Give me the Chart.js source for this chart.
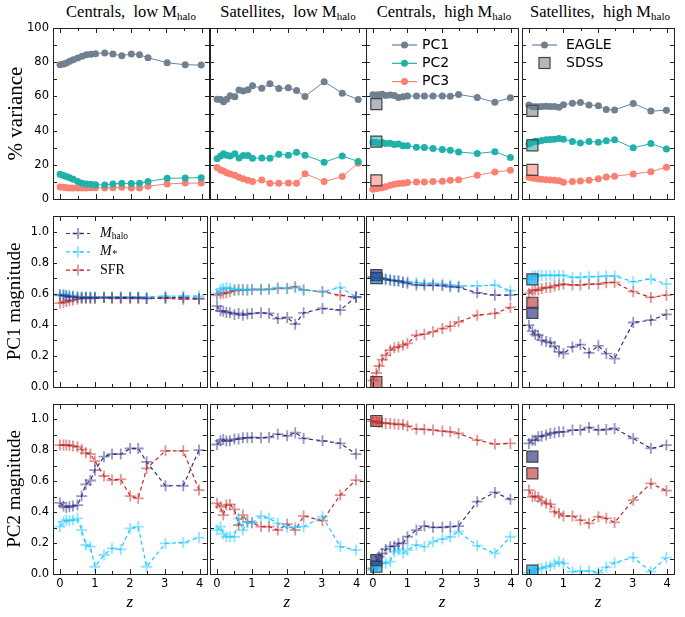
<!DOCTYPE html>
<html>
<head>
<meta charset="utf-8">
<script src="https://cdn.jsdelivr.net/npm/chart.js@4.4.1/dist/chart.umd.min.js"></script>
<style>
  body { margin: 0; background: #fff; }
  #wrap { position: relative; width: 685px; height: 617px; overflow: hidden; }
  #wrap canvas { position: absolute; }
  .ttl { position: absolute; top: 2px; width: 156px; text-align: center;
         font-family: "Liberation Serif", serif; font-size: 16.5px; color: #000; white-space: nowrap; }
  .ttl sub { font-size: 11px; vertical-align: -3px; }
</style>
</head>
<body>
<div id="wrap"></div>
<script>
// snapshot redshifts
var z = [0, 0.1, 0.18, 0.27, 0.37, 0.5, 0.62, 0.74, 0.87, 1.0, 1.26, 1.49, 1.74, 2.01, 2.24, 2.48, 3.02, 3.53, 3.98];

var panelTitles = ['Centrals,\u00a0 low M<sub>halo</sub>', 'Satellites,\u00a0 low M<sub>halo</sub>',
                   'Centrals,\u00a0 high M<sub>halo</sub>', 'Satellites,\u00a0 high M<sub>halo</sub>'];

// row 1: % variance, one list per column (cen low, sat low, cen high, sat high)
var varPC1 = [
  [78.5, 79, 79.6, 80.5, 81.5, 82.5, 83.5, 84.3, 84.7, 85, 85.4, 84.8, 83.8, 84.8, 84.4, 82.6, 79.7, 78.5, 78.3],
  [58.4, 58.2, 56.8, 58.4, 60.4, 59.8, 63.7, 63.1, 63.9, 66.2, 64.8, 67.4, 64.6, 65.0, 63.5, 60.0, 68.6, 61.9, 58.2],
  [61, 60.8, 61, 61.2, 60.5, 60.8, 60.5, 59.3, 59.8, 60.2, 60.2, 60.2, 60.2, 60.3, 60.1, 61.1, 59.4, 56.6, 59.2],
  [54.9, 53.9, 53.9, 54, 54.1, 54.2, 54.1, 54.1, 53.7, 55.1, 56, 56.4, 55, 54.5, 52.3, 52.1, 55.9, 51.4, 51.9]
];
var varPC2 = [
  [14.5, 13.8, 13.2, 12.5, 11.5, 10.2, 9.2, 8.8, 8.6, 8.3, 8.2, 8.8, 9.2, 9.0, 9.2, 10.2, 12.1, 12.3, 12.5],
  [23.6, 25.2, 26.4, 25.6, 25.2, 26.4, 24, 25.4, 25.4, 23.8, 24, 23.8, 26.2, 25.6, 27.3, 25.6, 21.5, 25.2, 21.9],
  [33.2, 33, 32.6, 33, 32.4, 32.6, 31.8, 32.2, 31.2, 31.2, 30.3, 30.1, 29.5, 28.9, 28.5, 27.5, 26.6, 27.7, 24.2],
  [32.2, 33.2, 33.8, 33.8, 34.2, 34.6, 34.8, 35, 35.4, 35, 33.6, 32.8, 33.6, 33.2, 34, 34.6, 29.9, 32.4, 29.3]
];
var varPC3 = [
  [7.0, 6.8, 6.6, 6.5, 6.5, 6.5, 6.5, 6.5, 6.6, 6.6, 6.5, 6.6, 6.8, 6.4, 6.5, 7.5, 8.8, 9.3, 9.3],
  [18.4, 17.0, 16.4, 15.4, 14.6, 13.9, 12.7, 11.9, 10.9, 10.2, 11.1, 9.2, 9.2, 9.4, 9.2, 14.8, 10.2, 13.1, 20.9],
  [5.7, 6.1, 6.4, 6.6, 7.2, 8.0, 8.6, 9.0, 9.2, 9.6, 10.0, 10.0, 10.2, 10.4, 10.9, 11.3, 13.9, 15.8, 16.8],
  [12.7, 12.3, 12.1, 11.7, 11.5, 11.3, 11.1, 10.9, 10.7, 9.8, 10.2, 10.5, 10.9, 11.9, 12.9, 13.3, 14.6, 16.0, 18.6]
];
var sdssVar = [null, null, [55.5, 33.6, 10.9], [51.6, 31.4, 17.0]];   // PC1, PC2, PC3

// row 2: PC1 magnitude
var pc1Mhalo = [
  [0.59, 0.59, 0.585, 0.58, 0.58, 0.575, 0.575, 0.575, 0.575, 0.575, 0.575, 0.575, 0.575, 0.575, 0.575, 0.57, 0.575, 0.575, 0.57],
  [0.52, 0.49, 0.488, 0.48, 0.478, 0.467, 0.473, 0.462, 0.47, 0.473, 0.477, 0.473, 0.44, 0.447, 0.404, 0.477, 0.505, 0.495, 0.58],
  [0.705, 0.703, 0.70, 0.697, 0.693, 0.688, 0.684, 0.682, 0.673, 0.667, 0.656, 0.654, 0.654, 0.652, 0.645, 0.641, 0.606, 0.591, 0.591],
  [0.398, 0.359, 0.338, 0.333, 0.301, 0.292, 0.286, 0.262, 0.226, 0.215, 0.258, 0.273, 0.219, 0.265, 0.215, 0.183, 0.415, 0.43, 0.467]
];
var pc1Mstar = [
  [0.595, 0.595, 0.59, 0.59, 0.585, 0.585, 0.58, 0.58, 0.58, 0.58, 0.58, 0.58, 0.58, 0.58, 0.58, 0.58, 0.585, 0.585, 0.585],
  [0.60, 0.628, 0.634, 0.64, 0.634, 0.628, 0.628, 0.628, 0.624, 0.624, 0.624, 0.628, 0.639, 0.634, 0.64, 0.624, 0.613, 0.64, 0.58],
  [0.71, 0.706, 0.701, 0.697, 0.692, 0.688, 0.684, 0.682, 0.677, 0.677, 0.671, 0.667, 0.667, 0.662, 0.656, 0.65, 0.65, 0.656, 0.619],
  [0.692, 0.714, 0.714, 0.718, 0.718, 0.718, 0.718, 0.718, 0.718, 0.718, 0.705, 0.705, 0.71, 0.71, 0.714, 0.714, 0.677, 0.695, 0.662]
];
var pc1SFR = [
  [0.54, 0.545, 0.55, 0.555, 0.56, 0.565, 0.57, 0.57, 0.57, 0.57, 0.575, 0.57, 0.57, 0.57, 0.57, 0.57, 0.57, 0.565, 0.565],
  [0.59, 0.60, 0.604, 0.606, 0.613, 0.62, 0.624, 0.624, 0.624, 0.628, 0.628, 0.628, 0.634, 0.634, 0.645, 0.624, 0.613, 0.59, 0.576],
  [0.043, 0.09, 0.135, 0.176, 0.204, 0.237, 0.252, 0.258, 0.269, 0.28, 0.333, 0.34, 0.355, 0.376, 0.391, 0.419, 0.462, 0.473, 0.512],
  [0.602, 0.619, 0.624, 0.624, 0.634, 0.64, 0.64, 0.65, 0.656, 0.662, 0.656, 0.656, 0.662, 0.662, 0.671, 0.673, 0.613, 0.576, 0.591]
];
var sdssPC1 = [null, null, [0.72, 0.70, 0.032], [0.477, 0.692, 0.542]];   // Mhalo, M*, SFR

// row 3: PC2 magnitude
var pc2Mhalo = [
  [0.46, 0.44, 0.431, 0.435, 0.44, 0.446, 0.504, 0.58, 0.605, 0.672, 0.759, 0.776, 0.776, 0.812, 0.812, 0.726, 0.571, 0.571, 0.802],
  [0.838, 0.862, 0.871, 0.86, 0.862, 0.873, 0.873, 0.881, 0.881, 0.884, 0.881, 0.884, 0.905, 0.894, 0.914, 0.877, 0.862, 0.845, 0.776],
  [0.037, 0.08, 0.112, 0.134, 0.159, 0.177, 0.181, 0.198, 0.198, 0.241, 0.284, 0.31, 0.302, 0.302, 0.306, 0.31, 0.468, 0.528, 0.483],
  [0.845, 0.866, 0.866, 0.888, 0.892, 0.899, 0.909, 0.914, 0.92, 0.92, 0.931, 0.931, 0.948, 0.931, 0.935, 0.942, 0.877, 0.813, 0.834]
];
var pc2Mstar = [
  [0.306, 0.338, 0.349, 0.345, 0.349, 0.36, 0.284, 0.188, 0.177, 0.047, 0.123, 0.166, 0.159, 0.295, 0.306, 0.047, 0.198, 0.203, 0.235],
  [0.284, 0.306, 0.259, 0.241, 0.241, 0.241, 0.36, 0.284, 0.334, 0.332, 0.375, 0.36, 0.328, 0.302, 0.302, 0.306, 0.371, 0.177, 0.155],
  [0.026, 0.047, 0.069, 0.073, 0.069, 0.08, 0.144, 0.159, 0.134, 0.155, 0.188, 0.177, 0.209, 0.226, 0.241, 0.274, 0.183, 0.134, 0.241],
  [0.009, 0.015, 0.026, 0.037, 0.037, 0.047, 0.052, 0.065, 0.08, 0.069, 0.015, 0.019, 0.019, 0.009, 0.043, 0.073, 0.108, 0.015, 0.106]
];
var pc2SFR = [
  [0.834, 0.834, 0.834, 0.832, 0.828, 0.823, 0.806, 0.784, 0.776, 0.731, 0.634, 0.608, 0.612, 0.504, 0.489, 0.683, 0.797, 0.797, 0.543],
  [0.457, 0.435, 0.381, 0.446, 0.45, 0.418, 0.317, 0.381, 0.338, 0.332, 0.306, 0.306, 0.284, 0.323, 0.284, 0.375, 0.345, 0.511, 0.608],
  [0.989, 0.985, 0.98, 0.978, 0.974, 0.974, 0.97, 0.968, 0.968, 0.957, 0.938, 0.936, 0.931, 0.925, 0.92, 0.909, 0.866, 0.841, 0.845],
  [0.543, 0.5, 0.504, 0.496, 0.472, 0.457, 0.45, 0.403, 0.392, 0.375, 0.375, 0.349, 0.328, 0.371, 0.36, 0.334, 0.478, 0.586, 0.539]
];
var sdssPC2 = [null, null, [0.09, 0.047, 0.99], [0.759, 0.022, 0.651]];
var sdssZ = 0.1;

// colours
var cPC = ['#708090', '#20b2aa', '#fa8072'];
var cPCfill = ['rgba(112,128,144,0.55)', 'rgba(32,178,170,0.55)', 'rgba(250,128,114,0.55)'];
var cVar = ['#2f2f86', '#1ec8ff', '#c02a2a'];
var cVarPt = ['rgba(47,47,134,0.5)', 'rgba(30,200,255,0.5)', 'rgba(192,42,42,0.5)'];
var cVarSq = ['rgba(47,47,134,0.65)', 'rgba(30,180,240,0.75)', 'rgba(192,42,42,0.6)'];

// layout of the 3x4 grid (px)
var colL = [53, 210, 366, 522];
var rowT = [28, 216, 404];
var W = 156, H = [171, 171, 170];
var padL = 53, padT = 14, padR = 5, padB = 44;

function pts(ys) {
  return ys.map(function (v, i) { return {x: z[i], y: v}; });
}

// inward tick marks and a full box around every panel
var framePlugin = {
  id: 'frame',
  afterDraw: function (chart) {
    var ctx = chart.ctx, a = chart.chartArea, sx = chart.scales.x, sy = chart.scales.y;
    ctx.save();
    ctx.strokeStyle = '#222';
    ctx.lineWidth = 1;
    ctx.beginPath();
    sx.ticks.forEach(function (t) {
      var px = Math.round(sx.getPixelForValue(t.value)) + 0.5;
      var len = Math.abs(t.value - Math.round(t.value)) < 1e-6 ? 5 : 3;
      ctx.moveTo(px, a.bottom); ctx.lineTo(px, a.bottom - len);
      ctx.moveTo(px, a.top); ctx.lineTo(px, a.top + len);
    });
    sy.ticks.forEach(function (t) {
      var py = Math.round(sy.getPixelForValue(t.value)) + 0.5;
      ctx.moveTo(a.left, py); ctx.lineTo(a.left + 4, py);
      ctx.moveTo(a.right, py); ctx.lineTo(a.right - 4, py);
    });
    ctx.stroke();
    ctx.strokeRect(Math.round(a.left) + 0.5, Math.round(a.top) + 0.5,
                   Math.round(a.right - a.left), Math.round(a.bottom - a.top));
    ctx.restore();
  }
};

// small legend drawn inside a panel
var legendPlugin = {
  id: 'panelLegend',
  afterDraw: function (chart, args, o) {
    if (!o || !o.items) return;
    var ctx = chart.ctx, a = chart.chartArea;
    ctx.save();
    o.items.forEach(function (it, i) {
      var y = a.top + o.y + i * o.dy, x0 = a.left + o.x, xm = x0 + o.len / 2;
      if (it.line) {
        ctx.strokeStyle = it.color; ctx.lineWidth = 1.2;
        ctx.setLineDash(it.dash || []);
        ctx.beginPath(); ctx.moveTo(x0, y); ctx.lineTo(x0 + o.len, y); ctx.stroke();
        ctx.setLineDash([]);
      }
      if (it.marker === 'circle') {
        ctx.fillStyle = it.color;
        ctx.beginPath(); ctx.arc(xm, y, 3.5, 0, Math.PI * 2); ctx.fill();
      } else if (it.marker === 'cross') {
        ctx.strokeStyle = it.ptColor; ctx.lineWidth = 1.8;
        ctx.beginPath(); ctx.moveTo(xm - 5.5, y); ctx.lineTo(xm + 5.5, y);
        ctx.moveTo(xm, y - 5.5); ctx.lineTo(xm, y + 5.5); ctx.stroke();
      } else if (it.marker === 'rect') {
        ctx.fillStyle = it.fill; ctx.strokeStyle = '#444'; ctx.lineWidth = 1.2;
        ctx.fillRect(xm - 5.5, y - 5.5, 11, 11); ctx.strokeRect(xm - 5.5, y - 5.5, 11, 11);
      }
      var tx = a.left + o.tx;
      ctx.fillStyle = '#000'; ctx.textBaseline = 'middle'; ctx.textAlign = 'left';
      it.text.forEach(function (p) {
        ctx.font = p.font;
        ctx.fillText(p.t, tx, y + (p.dy || 0));
        tx += ctx.measureText(p.t).width;
      });
    });
    ctx.restore();
  }
};

Chart.register(framePlugin, legendPlugin);

var tickFont = {family: '"DejaVu Sans", sans-serif', size: 11.5};
var serif = '"Liberation Serif", "DejaVu Serif", serif';
var rowTitles = ['% variance', 'PC1 magnitude', 'PC2 magnitude'];

var legends = {
  '0-2': {x: 26, y: 17, dy: 18.3, len: 25, tx: 56, items: [
    {line: true, marker: 'circle', color: cPC[0], text: [{t: 'PC1', font: '14px "DejaVu Sans"'}]},
    {line: true, marker: 'circle', color: cPC[1], text: [{t: 'PC2', font: '14px "DejaVu Sans"'}]},
    {line: true, marker: 'circle', color: cPC[2], text: [{t: 'PC3', font: '14px "DejaVu Sans"'}]}
  ]},
  '0-3': {x: 10, y: 17, dy: 18, len: 25, tx: 44, items: [
    {line: true, marker: 'circle', color: cPC[0], text: [{t: 'EAGLE', font: '14px "DejaVu Sans"'}]},
    {line: false, marker: 'rect', fill: cPCfill[0], text: [{t: 'SDSS', font: '14px "DejaVu Sans"'}]}
  ]},
  '1-0': {x: 13, y: 17.5, dy: 18.3, len: 24, tx: 47, items: [
    {line: true, dash: [4, 3], marker: 'cross', color: cVar[0], ptColor: cVarPt[0],
     text: [{t: 'M', font: 'italic 14px ' + serif}, {t: 'halo', font: '9.5px ' + serif, dy: 3}]},
    {line: true, dash: [4, 3], marker: 'cross', color: cVar[1], ptColor: cVarPt[1],
     text: [{t: 'M', font: 'italic 14px ' + serif}, {t: '*', font: 'italic 10px ' + serif, dy: 3}]},
    {line: true, dash: [4, 3], marker: 'cross', color: cVar[2], ptColor: cVarPt[2],
     text: [{t: 'SFR', font: '14px ' + serif}]}
  ]}
};

function pcDatasets(c) {
  var ds = [];
  if (sdssVar[c]) {
    sdssVar[c].forEach(function (v, k) {
      ds.push({data: [{x: sdssZ, y: v}], showLine: false, pointStyle: 'rect', pointRadius: 7.8,
               backgroundColor: cPCfill[k], borderColor: '#444', borderWidth: 1.2});
    });
  }
  [varPC1, varPC2, varPC3].forEach(function (arr, k) {
    ds.push({data: pts(arr[c]), borderColor: cPC[k], backgroundColor: cPC[k], borderWidth: 1,
             pointStyle: 'circle', pointRadius: 3.5, pointBorderWidth: 0, tension: 0});
  });
  return ds;
}

function magDatasets(c, mh, ms, sf, sd) {
  var ds = [];
  if (sd[c]) {
    sd[c].forEach(function (v, k) {
      ds.push({data: [{x: sdssZ, y: v}], showLine: false, pointStyle: 'rect', pointRadius: 7.8,
               backgroundColor: cVarSq[k], borderColor: '#444', borderWidth: 1.2});
    });
  }
  [mh, ms, sf].forEach(function (arr, k) {
    ds.push({data: pts(arr[c]), borderColor: cVar[k], borderWidth: 1.2, borderDash: [4, 3],
             pointStyle: 'cross', pointRadius: 5.5, pointBorderColor: cVarPt[k], pointBorderWidth: 1.8,
             backgroundColor: cVar[k], tension: 0});
  });
  return ds;
}

var wrap = document.getElementById('wrap');

for (var c = 0; c < 4; c++) {
  var d = document.createElement('div');
  d.className = 'ttl';
  d.style.left = colL[c] + 'px';
  d.innerHTML = panelTitles[c];
  wrap.appendChild(d);
}

for (var r = 0; r < 3; r++) {
  for (var c2 = 0; c2 < 4; c2++) {
    (function (r, c) {
      var cv = document.createElement('canvas');
      var cw = W + padL + padR, ch = H[r] + padT + padB;
      cv.width = cw; cv.height = ch;
      cv.style.left = (colL[c] - padL) + 'px';
      cv.style.top = (rowT[r] - padT) + 'px';
      cv.style.width = cw + 'px'; cv.style.height = ch + 'px';
      wrap.appendChild(cv);

      var datasets = r === 0 ? pcDatasets(c)
        : r === 1 ? magDatasets(c, pc1Mhalo, pc1Mstar, pc1SFR, sdssPC1)
        : magDatasets(c, pc2Mhalo, pc2Mstar, pc2SFR, sdssPC2);

      new Chart(cv, {
        type: 'line',
        data: {datasets: datasets},
        options: {
          responsive: false,
          animation: false,
          events: [],
          layout: {padding: {top: padT, right: padR, left: 0, bottom: 0}},
          plugins: {
            legend: {display: false},
            tooltip: {enabled: false},
            panelLegend: legends[r + '-' + c] || {}
          },
          scales: {
            x: {
              type: 'linear', min: -0.2, max: 4.2,
              grid: {display: false, drawTicks: false},
              border: {display: false},
              ticks: {
                display: r === 2, stepSize: 0.5, includeBounds: false, autoSkip: false,
                maxRotation: 0, padding: 3, color: '#000', font: tickFont,
                callback: function (v) { return Math.abs(v - Math.round(v)) < 1e-6 ? String(Math.round(v)) : ''; }
              },
              title: {
                display: r === 2, text: 'z', color: '#000',
                font: {family: serif, style: 'italic', size: 17},
                padding: {top: 0, bottom: 5}
              },
              afterFit: function (s) { s.height = padB; }
            },
            y: {
              type: 'linear', min: 0, max: r === 0 ? 100 : 1.1,
              grid: {display: false, drawTicks: false},
              border: {display: false},
              ticks: {
                display: c === 0, stepSize: r === 0 ? 10 : 0.1, includeBounds: false, autoSkip: false,
                padding: 4, color: '#000', font: tickFont,
                callback: function (v) {
                  if (r === 0) return Math.round(v) % 20 === 0 ? String(Math.round(v)) : '';
                  var k = Math.round(v * 10);
                  return k % 2 === 0 ? (k / 10).toFixed(1) : '';
                }
              },
              title: {
                display: c === 0, text: rowTitles[r], color: '#000',
                font: {family: serif, size: r === 0 ? 21 : 19}, padding: {top: 4, bottom: 0}
              },
              afterFit: function (s) { s.width = padL; }
            }
          }
        }
      });
    })(r, c2);
  }
}
</script>
</body>
</html>
